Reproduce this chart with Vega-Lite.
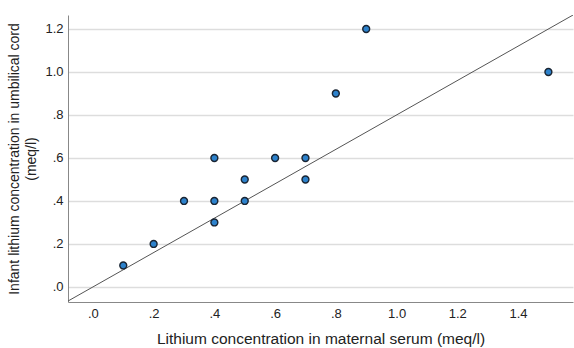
{
  "$schema": "https://vega.github.io/schema/vega-lite/v6.json",
  "autosize": "none",
  "width": 505,
  "height": 287,
  "padding": {"left": 68, "top": 15, "right": 1, "bottom": 46},
  "background": "white",
  "config": {
    "font": "Liberation Sans",
    "view": {"stroke": null}
  },
  "datasets": {
    "pts": [
      {"maternal": 0.1, "infant": 0.1},
      {"maternal": 0.2, "infant": 0.2},
      {"maternal": 0.3, "infant": 0.4},
      {"maternal": 0.4, "infant": 0.4},
      {"maternal": 0.4, "infant": 0.3},
      {"maternal": 0.4, "infant": 0.6},
      {"maternal": 0.5, "infant": 0.5},
      {"maternal": 0.5, "infant": 0.4},
      {"maternal": 0.6, "infant": 0.6},
      {"maternal": 0.7, "infant": 0.6},
      {"maternal": 0.7, "infant": 0.5},
      {"maternal": 0.8, "infant": 0.9},
      {"maternal": 0.9, "infant": 1.2},
      {"maternal": 1.5, "infant": 1.0}
    ],
    "ref": [
      {"maternal": -0.1, "infant": -0.08},
      {"maternal": 1.6, "infant": 1.28}
    ]
  },
  "layer": [
    {
      "data": {"name": "ref"},
      "mark": {"type": "line", "clip": true, "color": "#555555", "strokeWidth": 1},
      "encoding": {
        "x": {
          "field": "maternal", "type": "quantitative",
          "scale": {"domain": [-0.082, 1.581], "nice": false, "zero": false},
          "axis": {
            "title": "Lithium concentration in maternal serum (meq/l)",
            "titleFontSize": 15.5, "titleFontWeight": "normal", "titleColor": "#222222",
            "titlePadding": 11,
            "values": [0, 0.2, 0.4, 0.6, 0.8, 1.0, 1.2, 1.4],
            "labelExpr": "datum.value < 1 ? substring(format(datum.value, '.1f'), 1) : format(datum.value, '.1f')",
            "labelFontSize": 13, "labelColor": "#222222", "labelPadding": 5,
            "ticks": false, "grid": false,
            "domainColor": "#888888", "domainWidth": 1
          }
        },
        "y": {
          "field": "infant", "type": "quantitative",
          "scale": {"domain": [-0.07, 1.265], "nice": false, "zero": false},
          "axis": {
            "title": ["Infant lithium concentration in umbilical cord", "(meq/l)"],
            "titleFontSize": 14, "titleFontWeight": "normal", "titleColor": "#222222",
            "titlePadding": 6, "titleLineHeight": 17,
            "values": [0, 0.2, 0.4, 0.6, 0.8, 1.0, 1.2],
            "labelExpr": "datum.value < 1 ? substring(format(datum.value, '.1f'), 1) : format(datum.value, '.1f')",
            "labelFontSize": 13, "labelColor": "#222222", "labelPadding": 5,
            "ticks": false, "grid": true, "gridColor": "#dddddd", "gridWidth": 1.5,
            "domainColor": "#888888", "domainWidth": 1
          }
        }
      }
    },
    {
      "data": {"name": "pts"},
      "mark": {"type": "point", "filled": true, "fill": "#2d82cc", "stroke": "#1a2533", "strokeWidth": 1.4, "size": 48, "opacity": 1},
      "encoding": {
        "x": {"field": "maternal", "type": "quantitative"},
        "y": {"field": "infant", "type": "quantitative"}
      }
    }
  ]
}
